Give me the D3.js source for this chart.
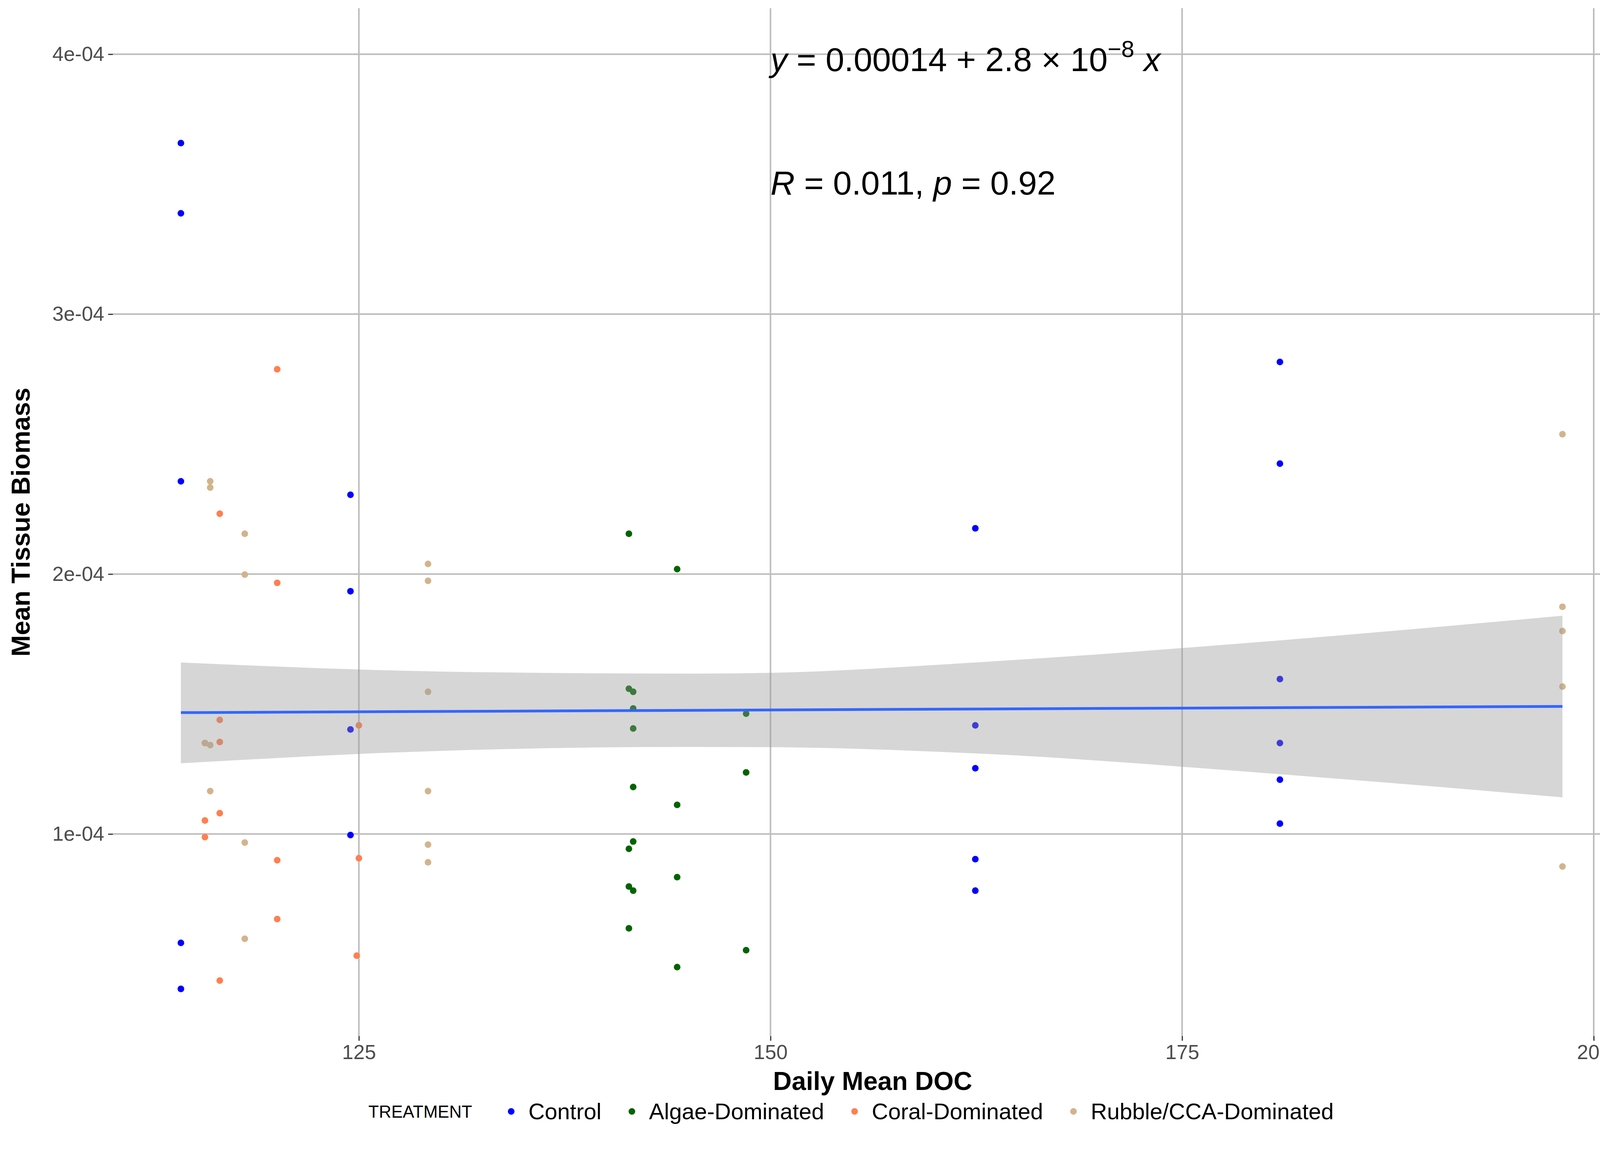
<!DOCTYPE html>
<html>
<head>
<meta charset="utf-8">
<script src="https://cdn.jsdelivr.net/npm/d3@7"></script>
<style>
  body { margin: 0; background: #fff; }
  text { font-family: "Liberation Sans", Arial, sans-serif; }
</style>
</head>
<body>
<svg width="4200" height="3000"></svg>
<script>
// data, [Daily Mean DOC, Mean Tissue Biomass]
let control = [
  [114.19, 3.658e-4], [114.19, 3.388e-4], [114.19, 2.357e-4], [114.19, 0.581e-4], [114.19, 0.404e-4],
  [124.49, 2.305e-4], [124.49, 1.934e-4], [124.49, 1.402e-4], [124.49, 0.996e-4],
  [162.44, 2.176e-4], [162.44, 1.418e-4], [162.44, 1.253e-4], [162.44, 0.903e-4], [162.44, 0.782e-4],
  [180.94, 2.816e-4], [180.94, 2.425e-4], [180.94, 1.596e-4], [180.94, 1.350e-4], [180.94, 1.209e-4], [180.94, 1.040e-4]
];
let algae = [
  [141.4, 2.155e-4], [144.33, 2.019e-4], [141.4, 1.559e-4], [141.66, 1.547e-4], [141.66, 1.483e-4],
  [141.66, 1.406e-4], [141.66, 1.181e-4], [144.33, 1.112e-4], [141.4, 0.943e-4], [141.66, 0.971e-4],
  [144.33, 0.834e-4], [141.4, 0.798e-4], [141.66, 0.782e-4], [141.4, 0.637e-4], [144.33, 0.488e-4],
  [148.52, 1.463e-4], [148.52, 1.237e-4], [148.52, 0.553e-4]
];
let coral = [
  [120.04, 2.788e-4], [116.55, 2.232e-4], [120.04, 1.966e-4], [116.55, 1.439e-4], [116.55, 1.354e-4],
  [115.65, 1.350e-4], [116.55, 1.080e-4], [115.65, 1.052e-4], [115.65, 0.988e-4], [120.04, 0.899e-4],
  [120.04, 0.673e-4], [116.55, 0.436e-4], [125.0, 1.418e-4], [125.0, 0.907e-4], [124.87, 0.532e-4]
];
let rubble = [
  [115.97, 2.357e-4], [115.97, 2.333e-4], [118.07, 2.155e-4], [118.07, 1.998e-4], [115.65, 1.350e-4],
  [115.97, 1.342e-4], [115.97, 1.165e-4], [118.07, 0.967e-4], [118.07, 0.597e-4],
  [129.2, 2.039e-4], [129.2, 1.974e-4], [129.2, 1.547e-4], [129.2, 1.165e-4], [129.2, 0.959e-4], [129.2, 0.891e-4],
  [198.1, 2.538e-4], [198.1, 1.874e-4], [198.1, 1.781e-4], [198.1, 1.567e-4], [198.1, 0.875e-4]
];
let treatments = ['Control', 'Algae-Dominated', 'Coral-Dominated', 'Rubble/CCA-Dominated'];
let colors = ['#0000FF', '#006400', '#FF7F50', '#D2B48C'];
let seriesData = [control, algae, coral, rubble];

// fitted line and confidence band
let fitX = [114.19, 198.1];
let fitY = [1.467e-4, 1.491e-4];
let bandX = [114.19, 130, 145, 150, 162.44, 180.94, 198.1];
let bandUpper = [1.660e-4, 1.625e-4, 1.617e-4, 1.620e-4, 1.660e-4, 1.745e-4, 1.840e-4];
let bandLower = [1.272e-4, 1.320e-4, 1.335e-4, 1.334e-4, 1.310e-4, 1.230e-4, 1.141e-4];

let xTicks = [125, 150, 175, 200];
let yTicks = [1e-4, 2e-4, 3e-4, 4e-4];
let yTickLabels = ['1e-04', '2e-04', '3e-04', '4e-04'];

let plotLeft = 289, plotRight = 4179, plotTop = 21, plotBottom = 2652;

let svg = d3.select('svg');

const xScale = d3.scaleLinear().domain([110.06, 202.35]).range([plotLeft, plotRight]);
const yScale = d3.scaleLinear().domain([0.2227e-4, 4.177e-4]).range([plotBottom, plotTop]);

// grid
let grid = svg.append('g');
grid.selectAll('.gx').data(xTicks).enter().append('line')
  .attr('x1', d => xScale(d)).attr('x2', d => xScale(d))
  .attr('y1', plotTop).attr('y2', plotBottom)
  .attr('stroke', '#bdbdbd').attr('stroke-width', 4);
grid.selectAll('.gy').data(yTicks).enter().append('line')
  .attr('x1', plotLeft).attr('x2', plotRight)
  .attr('y1', d => yScale(d)).attr('y2', d => yScale(d))
  .attr('stroke', '#bdbdbd').attr('stroke-width', 4);

// axes
let xAxis = svg.append('g')
  .attr('transform', `translate(0, ${plotBottom})`)
  .call(d3.axisBottom(xScale).tickValues(xTicks).tickSize(12).tickPadding(10));
let yAxis = svg.append('g')
  .attr('transform', `translate(${plotLeft}, 0)`)
  .call(d3.axisLeft(yScale).tickValues(yTicks).tickFormat((d, i) => yTickLabels[i]).tickSize(12).tickPadding(10));
[xAxis, yAxis].forEach(a => {
  a.select('.domain').remove();
  a.selectAll('line').attr('stroke', '#333').attr('stroke-width', 3);
  a.selectAll('text').attr('font-size', 52).attr('fill', '#4d4d4d')
    .style('font-family', '"Liberation Sans", Arial, sans-serif');
});

// points
seriesData.forEach((pts, i) => {
  svg.append('g').selectAll('circle').data(pts).enter().append('circle')
    .attr('cx', d => xScale(d[0]))
    .attr('cy', d => yScale(d[1]))
    .attr('r', 8.5)
    .attr('fill', colors[i]);
});

// confidence band + fit
let band = bandX.map((x, i) => [x, bandUpper[i], bandLower[i]]);
svg.append('path')
  .datum(band)
  .attr('d', d3.area().curve(d3.curveMonotoneX)
    .x(d => xScale(d[0])).y0(d => yScale(d[2])).y1(d => yScale(d[1])))
  .attr('fill', '#999999').attr('opacity', 0.4);
svg.append('path')
  .datum(fitX.map((x, i) => [x, fitY[i]]))
  .attr('d', d3.line().x(d => xScale(d[0])).y(d => yScale(d[1])))
  .attr('stroke', '#3366FF').attr('stroke-width', 7).attr('fill', 'none');

// equation labels
let eq = svg.append('text').attr('x', xScale(150)).attr('y', 182).attr('font-size', 86);
eq.append('tspan').attr('font-style', 'italic').text('y');
eq.append('tspan').text(' = 0.00014 + 2.8 × 10');
eq.append('tspan').attr('font-size', 60).attr('dy', -36).text('−8');
eq.append('tspan').attr('dy', 36).text(' ');
eq.append('tspan').attr('font-style', 'italic').text('x');

let rp = svg.append('text').attr('x', xScale(150)).attr('y', 498).attr('font-size', 86);
rp.append('tspan').attr('font-style', 'italic').text('R');
rp.append('tspan').text(' = 0.011, ');
rp.append('tspan').attr('font-style', 'italic').text('p');
rp.append('tspan').text(' = 0.92');

// axis titles
svg.append('text')
  .attr('x', (plotLeft + plotRight) / 2).attr('y', 2790)
  .attr('text-anchor', 'middle').attr('font-size', 66).attr('font-weight', 'bold')
  .text('Daily Mean DOC');
svg.append('text')
  .attr('transform', `translate(76, ${(plotTop + plotBottom) / 2}) rotate(-90)`)
  .attr('text-anchor', 'middle').attr('font-size', 66).attr('font-weight', 'bold')
  .text('Mean Tissue Biomass');

// legend
let legend = svg.append('g');
let lt = legend.append('text').attr('x', 943).attr('y', 2861).attr('font-size', 44).text('TREATMENT');
let lx = 943 + lt.node().getComputedTextLength() + 100;
treatments.forEach((t, i) => {
  legend.append('circle').attr('cx', lx).attr('cy', 2845).attr('r', 8.5).attr('fill', colors[i]);
  let tx = legend.append('text').attr('x', lx + 44).attr('y', 2865).attr('font-size', 58).text(t);
  lx += 44 + tx.node().getComputedTextLength() + 78;
});
</script>
</body>
</html>
